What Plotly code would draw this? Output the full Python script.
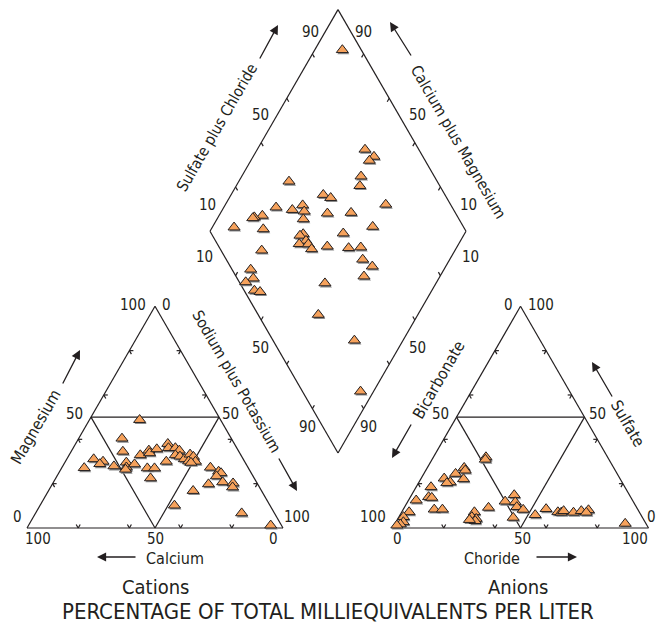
import math
import plotly.graph_objects as go

# ---------------- data (percent of total milliequivalents) ----------------
# Cations: magnesium and sodium+potassium (calcium = remainder)
cat_mg = [48.8, 40.4, 34.5, 31.1, 30.0, 28.9, 27.1, 27.9, 29.6, 27.4, 26.4, 28.8,
          32.9, 35.0, 33.8, 35.6, 38.0, 36.1, 36.1, 35.0, 32.9, 32.3, 31.1, 33.2,
          32.2, 30.1, 30.0, 29.5, 30.0, 27.0, 27.0, 22.5, 27.3, 25.5, 24.8, 23.4,
          20.7, 19.8, 20.2, 18.4, 16.8, 10.2, 6.7, 1.2]
cat_nak = [19.6, 16.9, 20.2, 10.5, 14.7, 14.0, 8.8, 20.0, 24.0, 25.1, 25.3, 27.6,
           27.8, 30.1, 31.0, 32.9, 36.0, 37.2, 39.9, 42.0, 41.5, 43.6, 45.9, 47.1,
           48.9, 48.1, 50.8, 49.3, 39.4, 33.5, 36.3, 37.0, 58.0, 62.1, 63.4, 62.3,
           66.1, 61.0, 70.4, 71.1, 56.5, 52.5, 80.5, 94.6]

# Anions: sulfate and chloride (bicarbonate = remainder)
an_so4 = [32.0, 30.9, 27.2, 26.0, 24.5, 22.1, 22.4, 20.7, 20.3, 18.5, 14.0, 13.7,
          12.5, 8.4, 8.4, 7.2, 5.0, 2.7, 1.7, 1.2, 9.2, 7.2, 5.0, 4.2, 3.2, 3.7,
          12.0, 14.9, 11.7, 9.5, 8.3, 4.7, 5.9, 8.6, 7.2, 7.0, 7.7, 7.0, 7.7, 8.1,
          7.0, 2.0]
an_cl = [20.5, 20.8, 14.4, 15.4, 12.4, 16.7, 9.0, 12.2, 11.1, 5.8, 7.1, 8.5,
         3.0, 12.1, 15.3, 2.9, 1.8, 2.9, 2.2, 1.1, 32.9, 28.4, 28.5, 30.6, 30.7, 28.2,
         38.0, 40.1, 42.1, 43.8, 46.9, 44.8, 52.8, 55.7, 61.0, 62.4, 63.0, 67.2, 69.9,
         72.5, 72.2, 89.9]

# Diamond: sulfate+chloride and calcium+magnesium
dia_so4cl = [92.6, 79.0, 80.9, 78.2, 71.4, 68.8, 42.1, 52.5, 54.7, 74.7, 31.2, 37.0,
             42.1, 41.3, 39.2, 49.9, 59.3, 24.0, 20.5, 19.7, 10.3, 21.3, 64.6, 51.6,
             35.8, 34.2, 35.4, 32.0, 35.5, 35.7, 42.4, 50.4, 55.3, 15.9, 53.3, 55.5,
             50.0, 7.3, 6.3, 2.5, 4.0, 5.9, 33.2, 23.5, 31.8, 22.7]
dia_camg = [89.2, 57.9, 52.8, 53.7, 53.4, 51.7, 80.4, 64.0, 60.4, 37.4, 79.6, 72.7,
            69.7, 67.7, 66.3, 58.2, 49.1, 83.1, 85.9, 86.3, 91.5, 79.7, 37.5, 47.5,
            63.0, 63.9, 60.4, 62.3, 58.7, 56.3, 50.8, 42.1, 37.5, 75.5, 34.0, 28.7,
            29.7, 75.5, 72.5, 74.6, 69.3, 66.8, 43.4, 38.9, 19.0, 5.1]

ticks = [20, 40, 60, 80]

# ---------------- geometry ----------------
S = 256.0
H = S * math.sqrt(3) / 2
BASE = 528.0
L0 = 27.0          # left edge of cation triangle
R0 = 392.5         # left edge of anion triangle
DBX, DBY = 338.0, 453.0   # bottom vertex of diamond

INK = "#231F20"
FONT = "Liberation Sans Narrow, DejaVu Sans Condensed, Arial Narrow, sans-serif"


def cat_xy(mg, nak):
    return L0 + S * (nak + mg / 2) / 100, BASE - H * mg / 100


def an_xy(so4, cl):
    return R0 + S * (cl + so4 / 2) / 100, BASE - H * so4 / 100


def dia_xy(camg, so4cl):
    return DBX + S / 2 * (so4cl - camg) / 100, DBY - H * (so4cl + camg) / 100


lx, ly = [], []


def seg(p, q):
    lx.extend([p[0], q[0], None])
    ly.extend([p[1], q[1], None])


def unit(a, b):
    dx, dy = b[0] - a[0], b[1] - a[1]
    n = math.hypot(dx, dy)
    return dx / n, dy / n


TL = 4.0


def triangle(tri_xy):
    P0 = tri_xy(0, 0)      # bottom-left
    P1 = tri_xy(0, 100)    # bottom-right
    P2 = tri_xy(100, 0)    # top
    seg(P0, P1); seg(P1, P2); seg(P2, P0)
    m_l = tri_xy(50, 0)
    m_r = tri_xy(50, 50)
    m_b = tri_xy(0, 50)
    seg(m_l, m_r); seg(m_l, m_b); seg(m_b, m_r)
    for A, B, C in [(P0, P1, P2), (P1, P2, P0), (P2, P0, P1)]:
        for t in ticks:
            f = t / 100
            Q = (A[0] + (B[0] - A[0]) * f, A[1] + (B[1] - A[1]) * f)
            for V in (A, B):
                ux, uy = unit(V, C)
                seg(Q, (Q[0] + ux * TL, Q[1] + uy * TL))


triangle(cat_xy)
triangle(an_xy)

DB = dia_xy(0, 0)
DL = dia_xy(100, 0)
DT = dia_xy(100, 100)
DR = dia_xy(0, 100)
verts = [DL, DT, DR, DB]
for i in range(4):
    V1 = verts[i]
    V2 = verts[(i + 1) % 4]
    Vp = verts[(i - 1) % 4]
    seg(V1, V2)
    ux, uy = unit(V1, Vp)
    for t in ticks:
        f = t / 100
        Q = (V1[0] + (V2[0] - V1[0]) * f, V1[1] + (V2[1] - V1[1]) * f)
        seg(Q, (Q[0] + ux * TL, Q[1] + uy * TL))

fig = go.Figure()
fig.add_trace(go.Scatter(x=lx, y=ly, mode="lines", hoverinfo="skip",
                         line=dict(color=INK, width=1.2), showlegend=False))

px, py = [], []
for m, n in zip(cat_mg, cat_nak):
    x, y = cat_xy(m, n); px.append(x); py.append(y)
for s, c in zip(an_so4, an_cl):
    x, y = an_xy(s, c); px.append(x); py.append(y)
for s, c in zip(dia_so4cl, dia_camg):
    x, y = dia_xy(c, s); px.append(x); py.append(y)

# drop shadow
fig.add_trace(go.Scatter(x=[v + 1.0 for v in px], y=[v + 1.6 for v in py], mode="markers",
                         marker=dict(symbol="triangle-up", size=10.5, color="#8a8a8a",
                                     line=dict(width=0)),
                         hoverinfo="skip", showlegend=False))
fig.add_trace(go.Scatter(x=px, y=py, mode="markers",
                         marker=dict(symbol="triangle-up", size=10.5, color="#F6A25C",
                                     line=dict(color=INK, width=1)),
                         showlegend=False))

ann = []


def txt(x, y, s, size=15, angle=0):
    ann.append(dict(x=x, y=y, xref="x", yref="y", text=s, showarrow=False,
                    textangle=angle, font=dict(family=FONT, size=size, color=INK)))


def arrow(tail, head):
    ann.append(dict(x=head[0], y=head[1], ax=tail[0], ay=tail[1], xref="x", yref="y",
                    axref="x", ayref="y", text="", showarrow=True, arrowhead=2,
                    arrowsize=1.4, arrowwidth=1.3, arrowcolor=INK, standoff=0,
                    startstandoff=0))


# cation triangle labels
for x, y, s in [(133, 305, "100"), (166, 305, "0"), (74, 414, "50"), (230, 414, "50"),
                (17, 517, "0"), (297, 517, "100"), (38, 539, "100"), (155, 539, "50"),
                (273, 539, "0")]:
    txt(x, y, s, 15)
txt(175, 558, "Calcium", 16)
txt(35, 427, "Magnesium", 16, -60)
txt(236, 381, "Sodium plus Potassium", 15.5, 60)
txt(155, 587, "Cations", 20)

# anion triangle labels
for x, y, s in [(508, 305, "0"), (541, 305, "100"), (440, 414, "50"), (597, 414, "50"),
                (373, 517, "100"), (651, 517, "0"), (397, 539, "0"), (522, 539, "50"),
                (635, 539, "100")]:
    txt(x, y, s, 15)
txt(492, 558, "Choride", 16)
txt(438, 380, "Bicarbonate", 16, -60)
txt(628, 423, "Sulfate", 16, 60)
txt(518, 587, "Anions", 20)

# diamond labels
for x, y, s in [(310, 32, "90"), (363, 32, "90"), (260, 115, "50"), (417, 115, "50"),
                (207, 205, "10"), (468, 205, "10"), (204, 257, "10"), (470, 257, "10"),
                (260, 348, "50"), (417, 348, "50"), (307, 427, "90"), (368, 427, "90")]:
    txt(x, y, s, 15)
txt(217, 128, "Sulfate plus Chloride", 15.5, -60)
txt(458, 142, "Calcium plus Magnesium", 15.5, 60)

txt(328, 611, "PERCENTAGE OF TOTAL MILLIEQUIVALENTS PER LITER", 22)

arrow((137, 557), (97, 557))
arrow((535, 557), (577, 557))
arrow((62, 385), (80, 350))
arrow((278, 457), (297, 491))
arrow((412, 423), (392, 458))
arrow((613, 398), (592, 362))
arrow((259, 60), (278, 25))
arrow((412, 57), (390, 22))

fig.update_layout(
    width=657, height=628, margin=dict(l=0, r=0, t=0, b=0),
    paper_bgcolor="white", plot_bgcolor="white",
    xaxis=dict(range=[0, 657], visible=False, fixedrange=True),
    yaxis=dict(range=[628, 0], visible=False, fixedrange=True),
    annotations=ann, showlegend=False,
)
fig.write_html("out.html", config={"displayModeBar": False},
               post_script="document.body.style.margin='0';document.body.style.padding='0';")
